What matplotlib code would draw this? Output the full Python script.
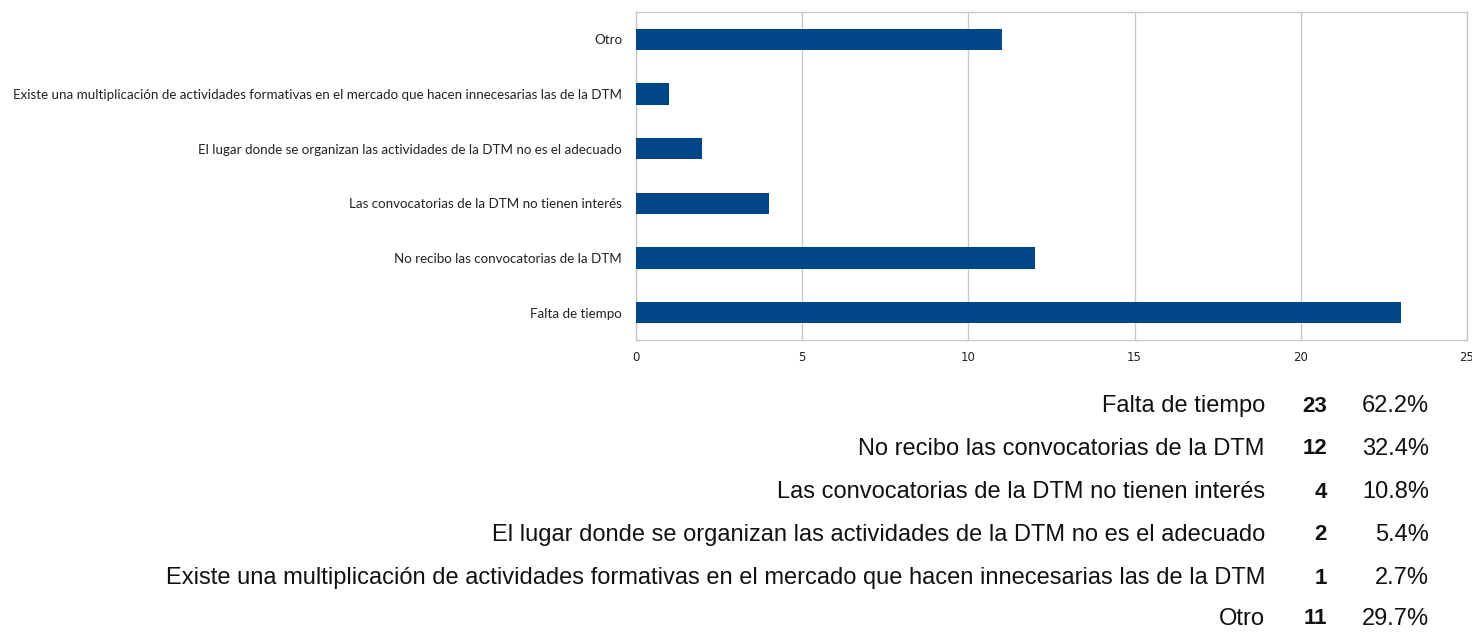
import matplotlib.pyplot as plt

# Data
categories = [
    'Falta de tiempo',
    'No recibo las convocatorias de la DTM',
    'Las convocatorias de la DTM no tienen interés',
    'El lugar donde se organizan las actividades de la DTM no es el adecuado',
    'Existe una multiplicación de actividades formativas en el mercado que hacen innecesarias las de la DTM',
    'Otro',
]
counts = [23, 12, 4, 2, 1, 11]
percents = ['62.2%', '32.4%', '10.8%', '5.4%', '2.7%', '29.7%']
x_ticks = [0, 5, 10, 15, 20, 25]

W, H = 1472, 632
fig = plt.figure(figsize=(W / 100, H / 100), dpi=100)
ax = fig.add_axes([636 / W, 1 - 340 / H, (1467 - 636) / W, (340 - 12) / H])

bar_color = '#004586'
grid_color = '#c8c8c8'

ax.barh(range(len(categories)), counts, height=0.39, color=bar_color, zorder=3)
ax.set_xlim(0, 25)
ax.set_ylim(-0.5, len(categories) - 0.5)
ax.set_xticks(x_ticks)
ax.set_xticklabels([str(t) for t in x_ticks], family='DejaVu Sans', fontsize=8.5, color='#222222')
ax.set_yticks(range(len(categories)))
ax.set_yticklabels(categories, family='Lato', fontsize=9.6, color='#222222')
ax.tick_params(axis='both', length=0)
ax.tick_params(axis='x', pad=8)
ax.tick_params(axis='y', pad=10)
ax.grid(axis='x', color=grid_color, linewidth=1, zorder=0)
for s in ax.spines.values():
    s.set_color(grid_color)
    s.set_linewidth(1)

# Summary table below the chart
row_y = [406, 449, 492, 535, 578, 619]
tfont = 'Liberation Sans'
for y, cat, n, p in zip(row_y, categories, counts, percents):
    yf = 1 - y / H
    fig.text(1265 / W, yf, cat, ha='right', va='center', fontsize=17, family=tfont, color='#111111')
    fig.text(1327 / W, yf, str(n), ha='right', va='center', fontsize=16, family=tfont,
             fontweight='bold', color='#111111')
    fig.text(1429 / W, yf, p, ha='right', va='center', fontsize=17, family=tfont, color='#111111')

fig.savefig('out.png', dpi=100)
